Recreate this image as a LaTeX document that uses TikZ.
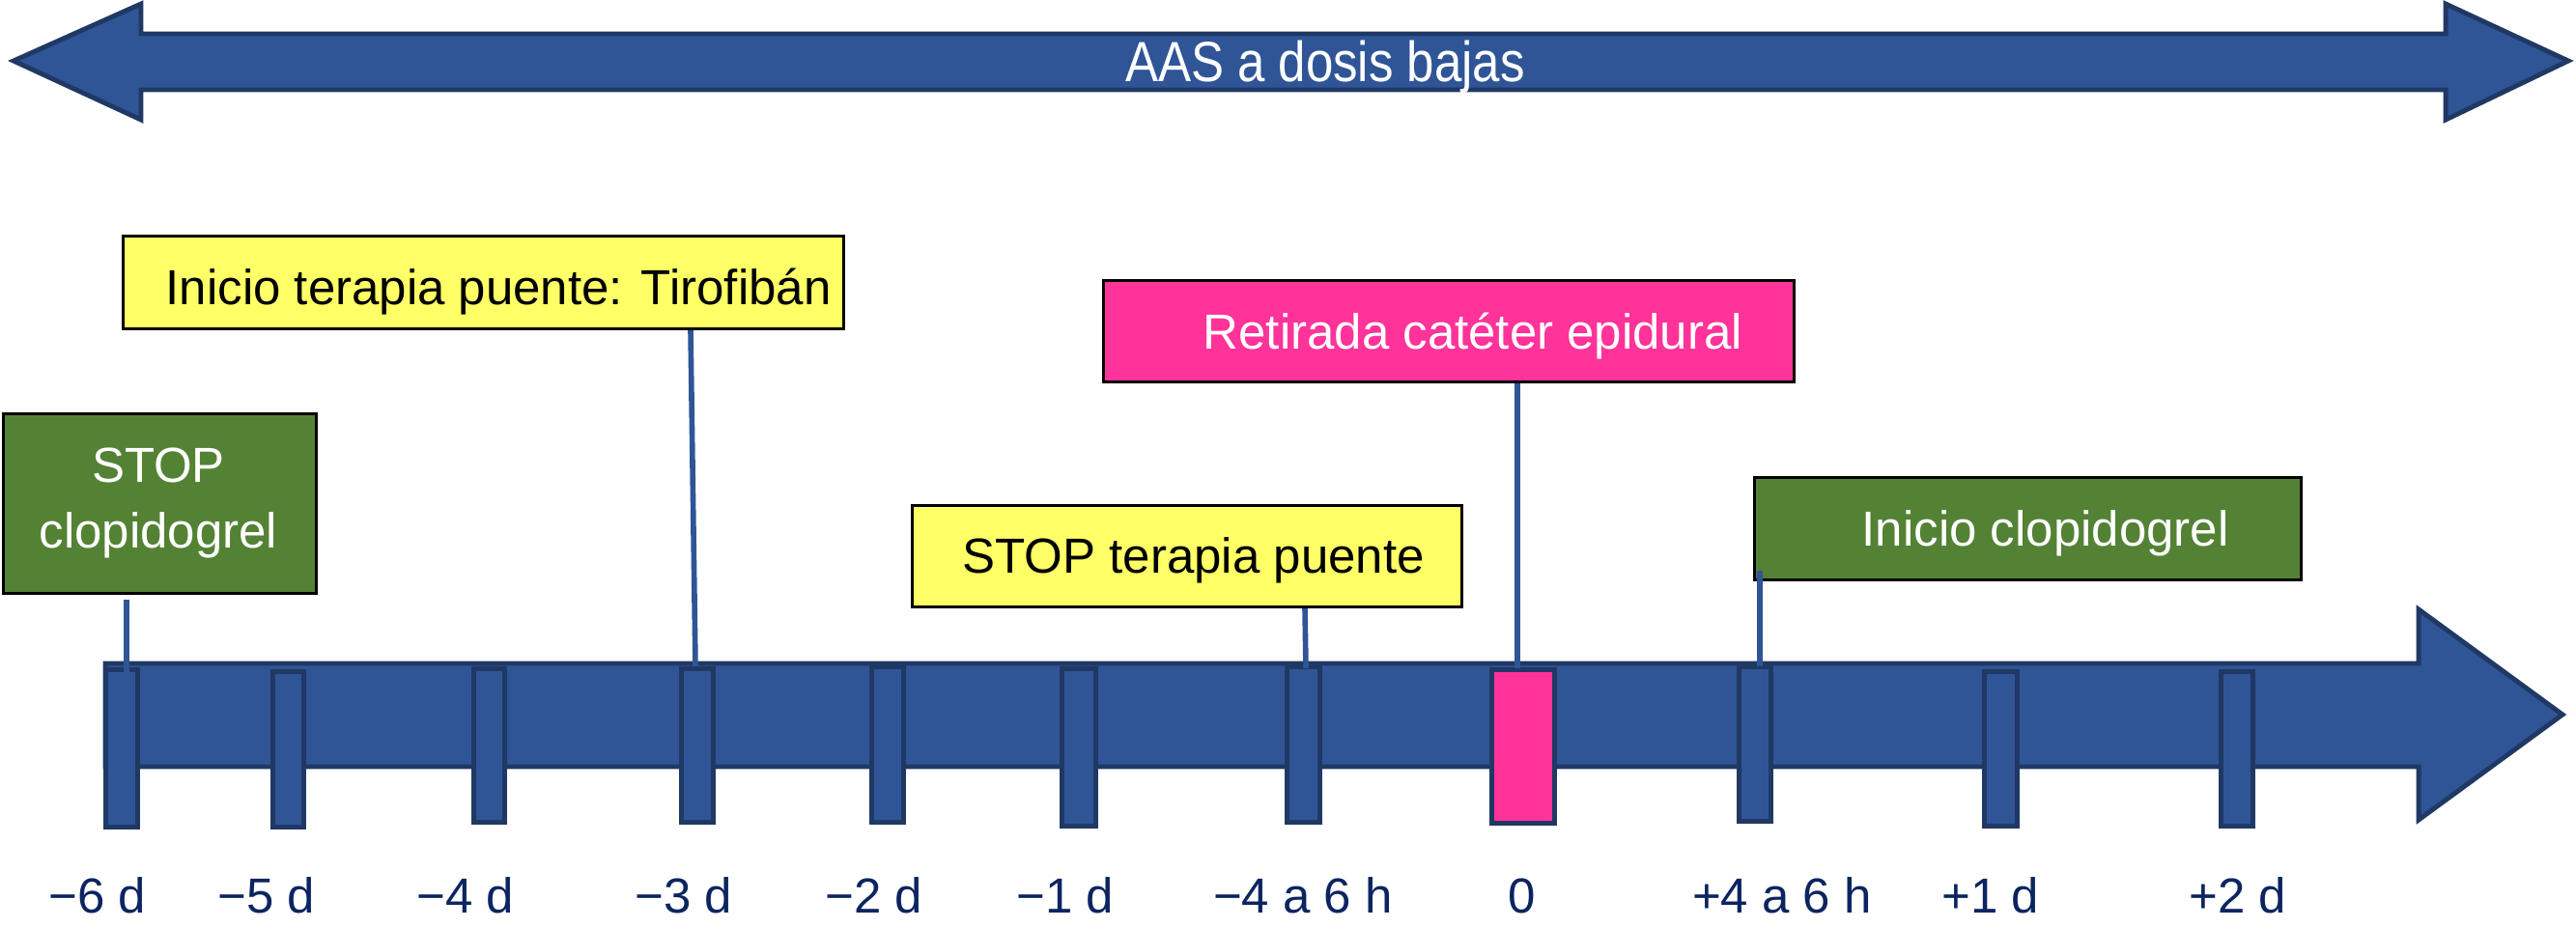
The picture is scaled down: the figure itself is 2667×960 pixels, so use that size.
\documentclass[tikz,border=0pt]{standalone}
\usepackage{fontspec}
\usepackage{graphicx}
\setmainfont{Liberation Sans}
\usetikzlibrary{calc}
\definecolor{tlblue}{HTML}{2F5597}
\definecolor{tldark}{HTML}{203864}
\definecolor{tlpink}{HTML}{FF3399}
\definecolor{tlyellow}{HTML}{FFFF66}
\definecolor{tlgreen}{HTML}{548235}
\definecolor{tlnavy}{HTML}{0C2560}
\begin{document}
\begin{tikzpicture}[x=0.01cm,y=-0.01cm,
  bigarrow/.style={fill=tlblue,draw=tldark,line width=1.4pt,line join=miter},
  tickbox/.style={rectangle,fill=tlblue,draw=tldark,line width=1.4pt,inner sep=0pt,minimum width=0.33cm},
  evbox/.style={rectangle,draw=black,line width=0.9pt,inner sep=0pt},
  txt/.style={font=\fontsize{14.5}{19.3}\selectfont,inner sep=0pt},
  lbl/.style={txt,text=tlnavy,anchor=base},
  conn/.style={draw=tlblue,line width=1.6pt}]
\useasboundingbox (0,0) rectangle (2667,960);

% top double arrow
\draw[bigarrow] (14,63) -- (146,4) -- (146,35) -- (2532,35) -- (2532,4) -- (2659,63)
  -- (2532,124) -- (2532,93) -- (146,93) -- (146,124) -- cycle;
\node[txt,text=white,anchor=base] (aast) at (1372,84) {\scalebox{1}[1.15]{AAS a dosis bajas}};

% main timeline arrow
\draw[bigarrow] (109,687) -- (2504,687) -- (2504,631) -- (2653,740) -- (2504,849)
  -- (2504,794) -- (109,794) -- cycle;

% ticks
\node[tickbox,minimum height=1.63cm] (t1) at (126,775) {};
\node[tickbox,minimum width=0.32cm,minimum height=1.61cm] (t2) at (298.5,776) {};
\node[tickbox,minimum width=0.32cm,minimum height=1.59cm] (t3) at (506.5,772) {};
\node[tickbox,minimum height=1.59cm] (t4) at (722,772) {};
\node[tickbox,minimum height=1.61cm] (t5) at (919,771) {};
\node[tickbox,minimum width=0.35cm,minimum height=1.63cm] (t6) at (1117,774) {};
\node[tickbox,minimum width=0.34cm,minimum height=1.61cm] (t7) at (1349.5,771) {};
\node[tickbox,fill=tlpink,minimum width=0.65cm,minimum height=1.59cm] (t0) at (1577,773) {};
\node[tickbox,minimum height=1.60cm] (t8) at (1817,770.5) {};
\node[tickbox,minimum width=0.34cm,minimum height=1.60cm] (t9) at (2071.5,775.5) {};
\node[tickbox,minimum height=1.60cm] (t10) at (2316,775.5) {};

% labels
\node[lbl] (l1) at (101,945) {−6 d};
\node[lbl] (l2) at (276,945) {−5 d};
\node[lbl] (l3) at (482,945) {−4 d};
\node[lbl] (l4) at (708,945) {−3 d};
\node[lbl] (l5) at (905,945) {−2 d};
\node[lbl] (l6) at (1103,945) {−1 d};
\node[lbl] (l7) at (1349,945) {−4 a 6 h};
\node[lbl] (l0) at (1576,945) {0};
\node[lbl] (l8) at (1845,945) {+4 a 6 h};
\node[lbl] (l9) at (2061,945) {+1 d};
\node[lbl] (l10) at (2317,945) {+2 d};

% event boxes
\node[evbox,fill=tlgreen,minimum width=3.24cm,minimum height=1.86cm] (stopc) at (165.5,521.5) {};
\node[txt,text=white,align=center,anchor=north] (stopct) at (164,463.4) {STOP\\clopidogrel};

\node[evbox,fill=tlyellow,minimum width=7.46cm,minimum height=0.96cm] (tiro) at (500.5,292.5) {};
\node[txt,anchor=base west] (tirot) at (171,315) {Inicio terapia puente: Tirofibán};

\node[evbox,fill=tlpink,minimum width=7.15cm,minimum height=1.05cm] (retir) at (1500,343) {};
\node[txt,text=white,anchor=base west] (retirt) at (1245,361) {Retirada catéter epidural};

\node[evbox,fill=tlyellow,minimum width=5.69cm,minimum height=1.05cm] (stopt) at (1229,576) {};
\node[txt,anchor=base west] (stoptt) at (996,593) {STOP terapia puente};

\node[evbox,fill=tlgreen,minimum width=5.66cm,minimum height=1.06cm] (inicl) at (2099.5,547.5) {};
\node[txt,text=white,anchor=base west] (inicltx) at (1927,565) {Inicio clopidogrel};

% connectors
\draw[conn] ($(stopc.south)+(-34.5,5)$) -- ($(t1.north)+(5,6)$);
\draw[conn] ($(tiro.south)+(214.5,0)$) -- ($(t4.north)+(-2,0)$);
\draw[conn] ($(stopt.south)+(122,0)$) -- ($(t7.north)+(2.5,4)$);
\draw[conn] ($(retir.south)+(71,0)$) -- ($(t0.north)+(-6,1)$);
\draw[conn] ($(inicl.south)+(-277.5,-11)$) -- ($(t8.north)+(5,2)$);
\end{tikzpicture}
\end{document}
